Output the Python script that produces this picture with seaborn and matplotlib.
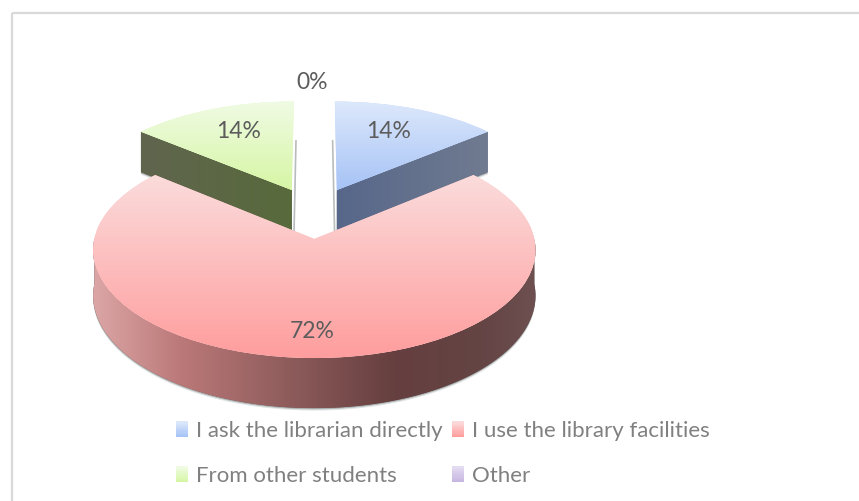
import numpy as np
import seaborn as sns
import matplotlib
matplotlib.use("Agg")
import matplotlib.pyplot as plt
from matplotlib.colors import LinearSegmentedColormap, to_rgb
from matplotlib.legend_handler import HandlerPatch
from matplotlib.patches import Polygon, Rectangle
from matplotlib.transforms import Transform

# chart data
categories = ["I ask the librarian directly", "I use the library facilities", "From other students", "Other"]
shares = [14, 72, 14, 0]

# colours: top of the slice, bottom of the slice
top_light = ["#dde8fb", "#fbdcdc", "#f0fbe4", "#e4dcf1"]
top_dark = ["#a6c3f6", "#ff9d9d", "#d6f6a4", "#c6b6e2"]
# colours of the side walls, left to right
wall_colors = {
    0: ["#57678a", "#707b90"],
    1: [(0, "#dca6a6"), (0.2, "#bb7878"), (0.42, "#925e5e"), (0.68, "#663f3f"), (0.88, "#644444"), (1, "#6e5050")],
    2: ["#60654e", "#586a3c"],
}

# layout of the fake 3d projection, in pixels
CX, CY = 314.3, 239.0
RX, RY = 220.0, 106.9
DEPTH = 45.0
PERSP = 0.102
EXPLODE = 0.252
label_xy = [(389, 131), (312, 332), (239, 131), (312, 82)]


def project(xy, z=0.0):
    # pie coordinates -> pixels, z=0 is the top face and z=1 the bottom face
    xy = np.asarray(xy, dtype=float)
    u = xy[..., 0]
    v = xy[..., 1] + EXPLODE
    w = 1 + PERSP * v
    return np.stack([CX + RX * u / w, CY - (RY * v - DEPTH * z) / w], axis=-1)


class PieProjection(Transform):
    input_dims = 2
    output_dims = 2

    def transform_non_affine(self, values):
        return project(values)


class GradientSwatch(HandlerPatch):
    # legend key made of thin stripes so it fades like the slices
    def create_artists(self, legend, orig_handle, xdescent, ydescent, width, height, fontsize, trans):
        c1, c2 = orig_handle.swatch_colors
        cmap = LinearSegmentedColormap.from_list("sw", [c2, c1])
        n = 14
        out = []
        for i in range(n):
            r = Rectangle((-xdescent, -ydescent + height * i / n), width, height / n + 0.3,
                          facecolor=cmap(i / (n - 1)), edgecolor="none", transform=trans)
            out.append(r)
        return out


def fill_gradient(ax, clip, colors, extent, horizontal=False, zorder=2):
    cmap = LinearSegmentedColormap.from_list("g", colors)
    ramp = np.linspace(0, 1, 256)
    ramp = ramp[None, :] if horizontal else ramp[:, None]
    im = ax.imshow(ramp, cmap=cmap, extent=extent, aspect="auto", origin="upper",
                   interpolation="bilinear", zorder=zorder)
    im.set_clip_path(clip)
    return im


sns.set_theme(style="white")
plt.rcParams["font.family"] = ["Lato", "DejaVu Sans"]

fig = plt.figure(figsize=(8.59, 5.01), dpi=100)
ax = fig.add_axes([0, 0, 1, 1])

wedges, texts, autotexts = ax.pie(
    shares, explode=[EXPLODE] * 4, startangle=90, counterclock=False,
    colors=sns.color_palette(top_dark), autopct="%.0f%%", labels=None,
    wedgeprops={"linewidth": 0},
)
ax.set_aspect("auto")
ax.set_xlim(0, 859)
ax.set_ylim(501, 0)
ax.axis("off")

proj = PieProjection() + ax.transData

# back slices first, the big one goes over them
for order, i in enumerate([0, 2, 1]):
    w = wedges[i]
    cx, cy = w.center
    t1, t2 = np.radians(w.theta1), np.radians(w.theta2)
    base = 3 + order * 3
    w.set_transform(proj)
    w.set_zorder(base + 1)
    # under-paint with the middle colour so the clip edge does not show
    w.set_facecolor(tuple((np.array(to_rgb(top_light[i])) + np.array(to_rgb(top_dark[i]))) / 2))

    if i == 1:
        # outer rim of the big slice, front half only
        t = np.linspace(np.pi, 2 * np.pi, 200)
        arc = np.column_stack([cx + np.cos(t), cy + np.sin(t)])
        wall = np.vstack([project(arc, 0), project(arc, 1)[::-1]])
    else:
        # straight cut face from the centre to the outer corner
        ang = t1 if i == 0 else t2
        far = t2 if i == 0 else t1
        corner = [cx + np.cos(ang), cy + np.sin(ang)]
        edge = np.array([[cx, cy], corner] if i == 0 else [corner, [cx, cy]])
        wall = np.vstack([project(edge, 0), project(edge, 1)[::-1]])
        # thin shadow down the inner straight edge, next to the gap
        inner = project(np.array([[cx + np.cos(far), cy + np.sin(far)], [cx, cy]]), 1)
        sx = -2.2 if i == 0 else 2.2
        ax.plot(inner[:, 0] + sx, inner[:, 1], color="#b8bcbc", lw=1.2, zorder=base - 1)

    # soft shadow under the wall
    for off, a in [(1.2, 0.45), (2.4, 0.2)]:
        ax.add_patch(Polygon(wall + [0, off], closed=True, facecolor="#6d7878", edgecolor="none",
                             alpha=a, zorder=base - 1))

    patch = Polygon(wall, closed=True, facecolor=to_rgb("#6e5a5a") if i == 1 else wall_colors[i][0],
                    edgecolor="none", zorder=base)
    ax.add_patch(patch)
    xs, ys = wall[:, 0], wall[:, 1]
    fill_gradient(ax, patch, wall_colors[i], (xs.min(), xs.max(), ys.max(), ys.min()),
                  horizontal=True, zorder=base + 0.5)

    # gradient on the top face
    bbox = w.get_path().transformed(proj + ax.transData.inverted()).get_extents()
    fill_gradient(ax, w, [top_light[i], top_dark[i]], (bbox.x0, bbox.x1, bbox.y1, bbox.y0),
                  zorder=base + 1.5)

wedges[3].set_visible(False)

for t, (x, y) in zip(autotexts, label_xy):
    t.set_position((x, y))
    t.set_color("#5c5c5c")
    t.set_fontsize(16.5)
    t.set_ha("center")
    t.set_va("center")
    t.set_zorder(20)

# legend, matplotlib fills by column so reorder to read across rows
for w, c1, c2 in zip(wedges, top_light, top_dark):
    w.swatch_colors = (c1, c2)
order = [0, 2, 1, 3]
leg = ax.legend(
    [wedges[i] for i in order], [categories[i] for i in order], ncol=2, frameon=False, loc="upper left",
    bbox_to_anchor=(175.5 / 859, 1 - 421 / 501), borderaxespad=0, borderpad=0,
    handler_map={w: GradientSwatch() for w in wedges},
    handlelength=0.56, handleheight=0.72, handletextpad=0.36,
    columnspacing=0.42, labelspacing=1.13,
    prop={"size": 16},
)
for t in leg.get_texts():
    t.set_color("#808080")

# chart frame, only top and left show in the crop
ax.plot([11.5, 859], [12.5, 12.5], color="#d9d9d9", lw=1.6, zorder=1, solid_capstyle="butt")
ax.plot([11.5, 11.5], [12.5, 501], color="#d9d9d9", lw=1.6, zorder=1, solid_capstyle="butt")

fig.savefig("out.png", dpi=100, facecolor="white")
